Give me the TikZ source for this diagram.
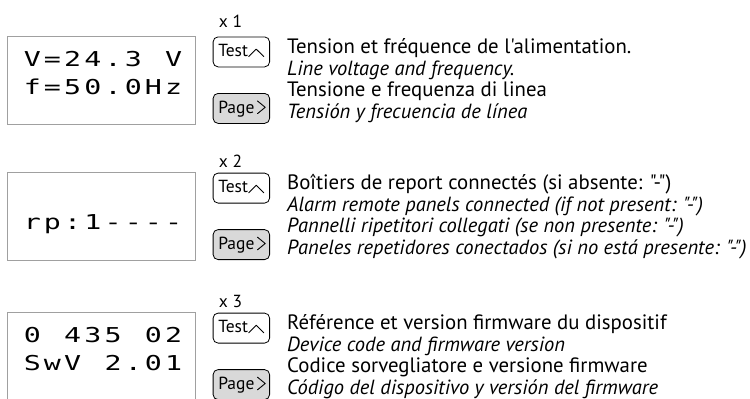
\documentclass[tikz,border=0pt]{standalone}
\usepackage{fontspec}
\setmainfont{PT Sans}[Ligatures=TeXOff]
\newfontfamily\lcdfont{DejaVu Sans Mono}
\usetikzlibrary{calc}
\definecolor{lcdborder}{HTML}{A0A0A0}
\definecolor{pagefill}{HTML}{D9D9D9}
\newcommand\lc[1]{\makebox[20.2pt][c]{\scalebox{1.38}[1]{#1}}}
\tikzset{
 display/.style={draw=lcdborder, line width=1.1pt, minimum width=188pt, minimum height=88pt, anchor=north west, inner sep=0pt},
 testbtn/.style={draw=black, line width=0.8pt, rounded corners=5pt, minimum width=56.5pt, minimum height=30pt, anchor=north west, fill=white, inner sep=0pt},
 pagebtn/.style={testbtn, fill=pagefill},
 btntext/.style={font=\fontsize{17.5}{17.5}\selectfont, anchor=base west, inner sep=0pt},
 lcdtext/.style={font=\lcdfont\fontsize{20.5}{20.5}\selectfont, anchor=base west, inner sep=0pt},
 desc/.style={font=\fontsize{20.8}{20.8}\selectfont, anchor=base west, inner sep=0pt},
 desci/.style={font=\fontsize{20.5}{20.5}\selectfont\itshape, anchor=base west, inner sep=0pt},
 chev/.style={line width=0.9pt, line cap=round, line join=round},
 mult/.style={font=\fontsize{17.5}{17.5}\selectfont, inner sep=0pt},
}
\begin{document}
\begin{tikzpicture}[x=1pt, y=-1pt]
\useasboundingbox (0,0) rectangle (750,399);
% ---------- Row 1 ----------
\def\rtop{35.5}
\node[display] (d1) at (7.3,\rtop) {};
\node[lcdtext] (d1a) at (22,\rtop+31) {\lc{V}\lc{=}\lc{2}\lc{4}\lc{.}\lc{3}\lc{ }\lc{V}};
\node[lcdtext] (d1b) at (22,\rtop+59) {\lc{f}\lc{=}\lc{5}\lc{0}\lc{.}\lc{0}\lc{H}\lc{z}};
\node[mult] (m1) at (230.5,21.5) {x 1};
\node[testbtn] (t1) at (212.7,\rtop+1) {};
\node[btntext] (t1t) at ($(t1.north west)+(5.4,20)$) {Test};
\draw[chev] ($(t1.north west)+(36,20)$) -- ($(t1.north west)+(43.5,12.6)$) -- ($(t1.north west)+(51,20)$);
\node[pagebtn] (p1) at (212.7,\rtop+57.5) {};
\node[btntext] (p1t) at ($(p1.north west)+(5.4,20.5)$) {Page};
\draw[chev] ($(p1.north west)+(44.8,8)$) -- ($(p1.north west)+(52.5,14.3)$) -- ($(p1.north west)+(44.8,20.6)$);
\node[desc]  (r1a) at (287,\rtop+18) {Tension et fréquence de l'alimentation.};
\node[desci] (r1b) at (287,\rtop+39.6) {Line voltage and frequency.};
\node[desc]  (r1c) at (287,\rtop+61.2) {Tensione e frequenza di linea};
\node[desci] (r1d) at (287,\rtop+82.8) {Tensión y frecuencia de línea};
% ---------- Row 2 ----------
\def\rtop{171.7}
\node[display] (d2) at (7.3,\rtop) {};
\node[lcdtext] (d2b) at (22,\rtop+58) {\lc{r}\lc{p}\lc{:}\lc{1}\lc{-}\lc{-}\lc{-}\lc{-}};
\node[mult] (m2) at (230.5,161.5) {x 2};
\node[testbtn] (t2) at (212.7,\rtop+1) {};
\node[btntext] (t2t) at ($(t2.north west)+(5.4,20)$) {Test};
\draw[chev] ($(t2.north west)+(36,20)$) -- ($(t2.north west)+(43.5,12.6)$) -- ($(t2.north west)+(51,20)$);
\node[pagebtn] (p2) at (212.7,\rtop+57.5) {};
\node[btntext] (p2t) at ($(p2.north west)+(5.4,20.5)$) {Page};
\draw[chev] ($(p2.north west)+(44.8,8)$) -- ($(p2.north west)+(52.5,14.3)$) -- ($(p2.north west)+(44.8,20.6)$);
\node[desc]  (r2a) at (287,\rtop+18) {Boîtiers de report connectés (si absente: "-")};
\node[desci] (r2b) at (287,\rtop+39.6) {Alarm remote panels connected (if not present: "-")};
\node[desci] (r2c) at (287,\rtop+61.2) {Pannelli ripetitori collegati (se non presente: "-")};
\node[desci] (r2d) at (287,\rtop+82.8) {Paneles repetidores conectados (si no está presente: "-")};
% ---------- Row 3 ----------
\def\rtop{311.7}
\node[display] (d3) at (7.3,\rtop) {};
\node[lcdtext] (d3a) at (22,\rtop+31) {\lc{0}\lc{ }\lc{4}\lc{3}\lc{5}\lc{ }\lc{0}\lc{2}};
\node[lcdtext] (d3b) at (22,\rtop+59) {\lc{S}\lc{w}\lc{V}\lc{ }\lc{2}\lc{.}\lc{0}\lc{1}};
\node[mult] (m3) at (230.5,301.5) {x 3};
\node[testbtn] (t3) at (212.7,\rtop+1) {};
\node[btntext] (t3t) at ($(t3.north west)+(5.4,20)$) {Test};
\draw[chev] ($(t3.north west)+(36,20)$) -- ($(t3.north west)+(43.5,12.6)$) -- ($(t3.north west)+(51,20)$);
\node[pagebtn] (p3) at (212.7,\rtop+57.5) {};
\node[btntext] (p3t) at ($(p3.north west)+(5.4,20.5)$) {Page};
\draw[chev] ($(p3.north west)+(44.8,8)$) -- ($(p3.north west)+(52.5,14.3)$) -- ($(p3.north west)+(44.8,20.6)$);
\node[desc]  (r3a) at (287,\rtop+18) {Référence et version firmware du dispositif};
\node[desci] (r3b) at (287,\rtop+39.6) {Device code and firmware version};
\node[desc]  (r3c) at (287,\rtop+61.2) {Codice sorvegliatore e versione firmware};
\node[desci] (r3d) at (287,\rtop+82.8) {Código del dispositivo y versión del firmware};
\end{tikzpicture}
\end{document}
